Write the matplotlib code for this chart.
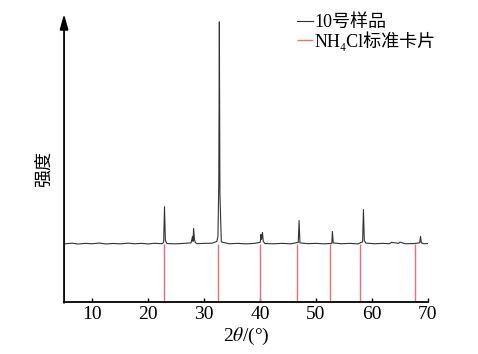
import numpy as np
from matplotlib import pyplot as plt

plt.rcParams['font.family'] = ['Liberation Serif', 'Noto Sans CJK SC']
plt.rcParams['mathtext.fontset'] = 'stix'

# sample 10 XRD trace (2theta, intensity in arbitrary units)
sample_x = [5.0, 6.5, 7.5, 8.8, 10.0, 11.3, 12.5, 13.8, 15.0, 16.4, 17.6, 18.9, 20.0, 21.2,
            22.5, 22.8, 22.95, 23.1, 23.4, 25.0, 26.5, 27.7, 27.95, 28.05, 28.15, 28.3, 28.45,
            28.7, 30.0, 31.5, 32.3, 32.5, 32.65, 32.75, 32.85, 33.1, 34.5, 36.0, 37.5, 39.0,
            40.05, 40.2, 40.3, 40.45, 40.6, 40.9, 42.5, 44.0, 45.5, 46.85, 47.0, 47.15, 48.5,
            50.0, 51.5, 52.85, 52.95, 53.1, 54.5, 56.0, 57.5, 58.35, 58.5, 58.65, 58.9, 60.5,
            62.0, 63.2, 63.5, 64.8, 65.0, 66.0, 67.5, 68.55, 68.7, 68.85, 69.3, 70.0]
sample_y = [58.5, 59.2, 58.3, 59.0, 58.6, 59.3, 58.4, 58.9, 58.5, 59.2, 58.6, 59.0, 58.4, 59.1,
            58.6, 60.0, 96.0, 62.0, 58.8, 58.5, 59.0, 59.5, 66.0, 61.0, 74.0, 63.0, 60.0,
            58.7, 59.0, 59.2, 61.0, 66.0, 120.0, 282.0, 110.0, 60.5, 58.6, 59.0, 58.5, 59.0,
            60.0, 68.0, 63.0, 70.0, 61.0, 58.8, 58.6, 59.0, 58.5, 60.0, 82.0, 59.5, 58.7,
            59.0, 58.5, 59.0, 71.0, 59.5, 58.6, 59.0, 58.5, 60.5, 93.0, 62.0, 59.3, 58.6,
            59.0, 58.6, 60.0, 59.0, 60.3, 58.6, 58.8, 59.5, 66.0, 59.5, 58.6, 58.8]

# NH4Cl standard card lines
card_x = [22.8, 32.45, 40.0, 46.6, 52.5, 57.9, 67.8]
card_top = 58.5

fig = plt.figure(figsize=(4.78, 3.54), dpi=100)
ax = fig.add_axes([0.134, 0.147, 0.761, 0.8136])

ax.vlines(card_x, 0, card_top, colors='#e8707a', linewidth=1.0, label='NH₄Cl标准卡片')
ax.plot(sample_x, sample_y, color='#333333', linewidth=0.8, label='10号样品')

ax.set_xlim(5, 70)
ax.set_ylim(0, 290)
ax.set_xticks([10, 20, 30, 40, 50, 60, 70])
ax.set_yticks([])
ax.tick_params(axis='x', direction='in', length=3, width=1.0, labelsize=14, pad=3)
for side in ['top', 'right']:
    ax.spines[side].set_visible(False)
ax.spines['left'].set_visible(False)
ax.spines['bottom'].set_linewidth(1.3)
ax.annotate('', xy=(0, 1.0), xytext=(0, -0.003), xycoords='axes fraction',
            arrowprops=dict(arrowstyle='-|>,head_length=0.9,head_width=0.25',
                            color='black', linewidth=1.3, shrinkA=0, shrinkB=0))

ax.set_xlabel(r'2$\theta$/(°)', fontsize=14, labelpad=2)
ax.set_ylabel('强度', fontsize=13)
ax.yaxis.set_label_coords(-0.03, 0.46)

handles, labels = ax.get_legend_handles_labels()
ax.legend(handles[::-1], labels[::-1], loc='upper left', bbox_to_anchor=(0.62, 1.025),
          frameon=False, fontsize=13, handlelength=0.9, handletextpad=0.1,
          labelspacing=0.0, borderaxespad=0.0)

fig.savefig('out.png', dpi=100)
